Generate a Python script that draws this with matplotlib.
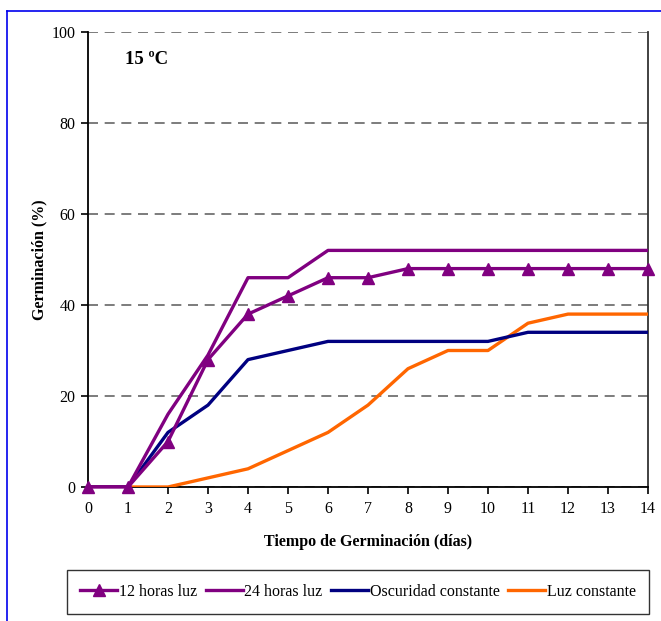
import matplotlib
matplotlib.use("Agg")
import matplotlib.pyplot as plt
from matplotlib.lines import Line2D

plt.rcParams['font.family'] = ['Liberation Serif', 'DejaVu Serif']

dias = list(range(15))
horas12 = [0, 0, 10, 28, 38, 42, 46, 46, 48, 48, 48, 48, 48, 48, 48]
horas24 = [0, 0, 16, 29, 46, 46, 52, 52, 52, 52, 52, 52, 52, 52, 52]
oscuridad = [0, 0, 12, 18, 28, 30, 32, 32, 32, 32, 32, 34, 34, 34, 34]
luz = [0, 0, 0, 2, 4, 8, 12, 18, 26, 30, 30, 36, 38, 38, 38]

etiquetas = ["12 horas luz", "24 horas luz", "Oscuridad constante", "Luz constante"]
purpura = "#800080"
azul = "#000080"
naranja = "#FF6600"

W, H = 661, 621
fig = plt.figure(figsize=(W / 100, H / 100), dpi=100)
ax = fig.add_axes([88 / W, 1 - 487 / H, (648 - 88) / W, (487 - 32) / H])

lw = 2.4
ax.plot(dias, luz, color=naranja, lw=lw, zorder=3)
ax.plot(dias, oscuridad, color=azul, lw=lw, zorder=4)
ax.plot(dias, horas24, color=purpura, lw=lw, zorder=5)
ax.plot(dias, horas12, color=purpura, lw=lw, marker='^', markersize=9, zorder=6, clip_on=False)

ax.set_xlim(0, 14)
ax.set_ylim(0, 100)
ax.set_xticks(range(0, 15))
ax.set_yticks(range(0, 101, 20))
ax.yaxis.grid(True, linestyle=(0, (6, 4)), color="#666666", lw=1.2)
ax.set_axisbelow(True)
ax.spines["top"].set_visible(False)
ax.spines["left"].set_color("black")
ax.spines["bottom"].set_color("black")
ax.spines["right"].set_color("#333333")
for s in ["left", "bottom", "right"]:
    ax.spines[s].set_linewidth(1.3)
ax.tick_params(direction='out', length=5, width=1.2, labelsize=11.5, colors="black", pad=5)
ax.tick_params(axis='y', pad=4)

ax.set_xlabel("Tiempo de Germinación (días)", fontsize=11.5, fontweight='bold', labelpad=12)
ax.set_ylabel("Germinación (%)", fontsize=11.5, fontweight='bold', labelpad=3)
ax.text(0.93, 94, "15 ºC", fontsize=13.5, fontweight='bold', va='center', ha='left')

handles = [
    Line2D([], [], color=purpura, lw=lw, marker='^', markersize=8),
    Line2D([], [], color=purpura, lw=lw),
    Line2D([], [], color=azul, lw=lw),
    Line2D([], [], color=naranja, lw=lw),
]
leg = fig.legend(handles, etiquetas, loc='center', ncol=4,
                 bbox_to_anchor=(358 / W, 1 - 592 / H),
                 frameon=True, fancybox=False, edgecolor="black",
                 fontsize=11.5, handlelength=2.3, handletextpad=0.1,
                 columnspacing=0.55, borderpad=0.85, borderaxespad=0)
leg.get_frame().set_linewidth(1.0)

# outer frame lines
fig.add_artist(Line2D([7 / W, 1], [1 - 11 / H, 1 - 11 / H], color="#0000EE", lw=1.2,
                      transform=fig.transFigure))
fig.add_artist(Line2D([7 / W, 7 / W], [0, 1 - 11 / H], color="#0000EE", lw=1.2,
                      transform=fig.transFigure))

fig.savefig("out.png", dpi=100)
